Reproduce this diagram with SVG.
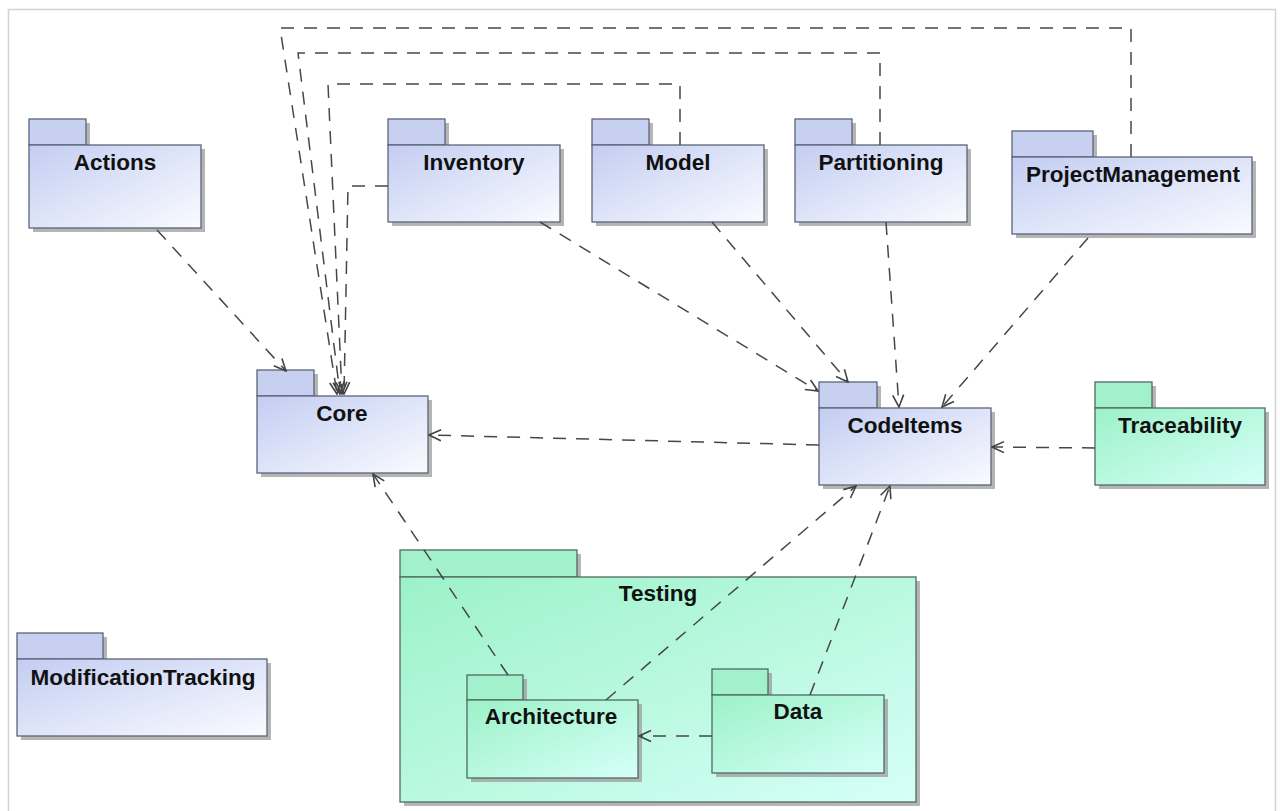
<svg xmlns="http://www.w3.org/2000/svg" width="1280" height="811" viewBox="0 0 1280 811">
<defs>
<linearGradient id="gBlue" x1="0" y1="0" x2="1" y2="1"><stop offset="0" stop-color="#c3cdf2"/><stop offset="1" stop-color="#fafbff"/></linearGradient>
<linearGradient id="gGreen" x1="0" y1="0" x2="1" y2="1"><stop offset="0" stop-color="#9cf2c8"/><stop offset="1" stop-color="#d6fff8"/></linearGradient>
<marker id="arr" viewBox="0 0 14 14" refX="13" refY="7" markerWidth="14" markerHeight="14" markerUnits="userSpaceOnUse" orient="auto"><path d="M1,1.5 L13,7 L1,12.5" fill="none" stroke="#444" stroke-width="1.6"/></marker>
<style>
.sh{fill:#9c9c9c;opacity:0.75}
.tb{fill:#c8d0f2;stroke:#5d6478;stroke-width:1.3}
.bb{fill:url(#gBlue);stroke:#5d6478;stroke-width:1.3}
.tg{fill:#a2f1cc;stroke:#506a62;stroke-width:1.3}
.bg{fill:url(#gGreen);stroke:#506a62;stroke-width:1.3}
.lbl{font-family:"Liberation Sans",Arial,sans-serif;font-weight:bold;font-size:22.5px;fill:#111;text-anchor:middle}
.depA{fill:none;stroke:#474747;stroke-width:1.5;stroke-dasharray:13 10;marker-end:url(#arr)}
</style>
</defs>
<rect x="0" y="0" width="1280" height="811" fill="#ffffff"/>
<rect x="8.5" y="9.5" width="1267" height="830" fill="#ffffff" stroke="#d2d2d2" stroke-width="1.5"/>

<g id="Testing">
<rect class="sh" x="404" y="554" width="177" height="27"/>
<rect class="sh" x="404" y="581" width="516" height="225"/>
<rect class="tg" x="400" y="550" width="177" height="27"/>
<rect class="bg" x="400" y="577" width="516" height="225"/>
<text class="lbl" x="658" y="601">Testing</text>
</g>

<g id="Actions">
<rect class="sh" x="33" y="123" width="57" height="26"/>
<rect class="sh" x="33" y="149" width="172" height="83"/>
<rect class="tb" x="29" y="119" width="57" height="26"/>
<rect class="bb" x="29" y="145" width="172" height="83"/>
<text class="lbl" x="115" y="170">Actions</text>
</g>

<g id="Inventory">
<rect class="sh" x="392" y="123" width="57" height="26"/>
<rect class="sh" x="392" y="149" width="172" height="77"/>
<rect class="tb" x="388" y="119" width="57" height="26"/>
<rect class="bb" x="388" y="145" width="172" height="77"/>
<text class="lbl" x="474" y="170">Inventory</text>
</g>

<g id="Model">
<rect class="sh" x="596" y="123" width="57" height="26"/>
<rect class="sh" x="596" y="149" width="172" height="77"/>
<rect class="tb" x="592" y="119" width="57" height="26"/>
<rect class="bb" x="592" y="145" width="172" height="77"/>
<text class="lbl" x="678" y="170">Model</text>
</g>

<g id="Partitioning">
<rect class="sh" x="799" y="123" width="57" height="26"/>
<rect class="sh" x="799" y="149" width="172" height="77"/>
<rect class="tb" x="795" y="119" width="57" height="26"/>
<rect class="bb" x="795" y="145" width="172" height="77"/>
<text class="lbl" x="881" y="170">Partitioning</text>
</g>

<g id="ProjectManagement">
<rect class="sh" x="1016" y="135" width="81" height="26"/>
<rect class="sh" x="1016" y="161" width="240" height="77"/>
<rect class="tb" x="1012" y="131" width="81" height="26"/>
<rect class="bb" x="1012" y="157" width="240" height="77"/>
<text class="lbl" x="1133" y="182">ProjectManagement</text>
</g>

<g id="Core">
<rect class="sh" x="261" y="374" width="57" height="26"/>
<rect class="sh" x="261" y="400" width="171" height="77"/>
<rect class="tb" x="257" y="370" width="57" height="26"/>
<rect class="bb" x="257" y="396" width="171" height="77"/>
<text class="lbl" x="342" y="421">Core</text>
</g>

<g id="CodeItems">
<rect class="sh" x="823" y="386" width="58" height="26"/>
<rect class="sh" x="823" y="412" width="172" height="77"/>
<rect class="tb" x="819" y="382" width="58" height="26"/>
<rect class="bb" x="819" y="408" width="172" height="77"/>
<text class="lbl" x="905" y="433">CodeItems</text>
</g>

<g id="Traceability">
<rect class="sh" x="1099" y="386" width="57" height="26"/>
<rect class="sh" x="1099" y="412" width="170" height="77"/>
<rect class="tg" x="1095" y="382" width="57" height="26"/>
<rect class="bg" x="1095" y="408" width="170" height="77"/>
<text class="lbl" x="1180" y="433">Traceability</text>
</g>

<g id="ModificationTracking">
<rect class="sh" x="21" y="637" width="86" height="26"/>
<rect class="sh" x="21" y="663" width="250" height="77"/>
<rect class="tb" x="17" y="633" width="86" height="26"/>
<rect class="bb" x="17" y="659" width="250" height="77"/>
<text class="lbl" x="143" y="685">ModificationTracking</text>
</g>

<g id="Architecture">
<rect class="sh" x="471" y="679" width="56" height="25"/>
<rect class="sh" x="471" y="704" width="171" height="78"/>
<rect class="tg" x="467" y="675" width="56" height="25"/>
<rect class="bg" x="467" y="700" width="171" height="78"/>
<text class="lbl" x="551" y="724">Architecture</text>
</g>

<g id="Data">
<rect class="sh" x="716" y="673" width="56" height="26"/>
<rect class="sh" x="716" y="699" width="172" height="78"/>
<rect class="tg" x="712" y="669" width="56" height="26"/>
<rect class="bg" x="712" y="695" width="172" height="78"/>
<text class="lbl" x="798" y="719">Data</text>
</g>

<g id="connectors">
<path class="depA" d="M157,230 L286,371"/>
<path class="depA" d="M1131,157 V28 H280 L337,394"/>
<path class="depA" d="M880,145 V53 H298 L340,394"/>
<path class="depA" d="M680,145 V84 H328 L342,394"/>
<path class="depA" d="M388,186 H348 L344,394"/>
<path class="depA" d="M540,222 L818,391"/>
<path class="depA" d="M712,222 L848,382"/>
<path class="depA" d="M886,222 L899,407"/>
<path class="depA" d="M1088,238 L942,407"/>
<path class="depA" d="M819,445 L429,435"/>
<path class="depA" d="M1095,448 L992,447"/>
<path class="depA" d="M508,675 L373,474"/>
<path class="depA" d="M606,700 L856,486"/>
<path class="depA" d="M810,695 L890,486"/>
<path class="depA" d="M712,736 L639,736"/>
</g>
</svg>
